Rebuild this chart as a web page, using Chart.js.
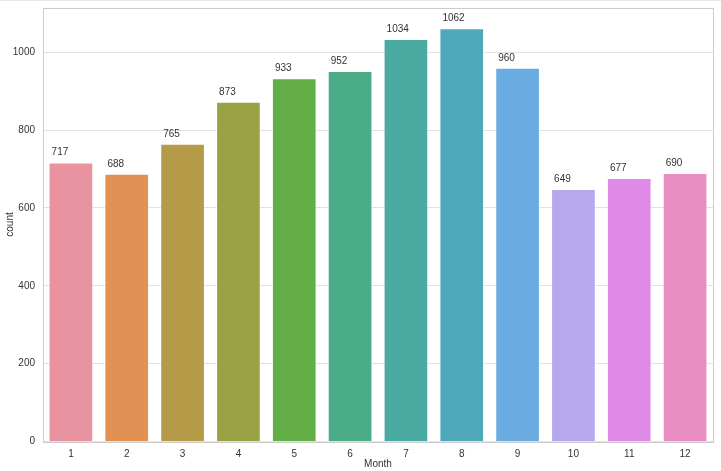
<!DOCTYPE html>
<html><head><meta charset="utf-8">
<script src="https://cdn.jsdelivr.net/npm/chart.js@4/dist/chart.umd.min.js"></script>
<style>html,body{margin:0;padding:0;background:#fff;}#wrap{width:721px;height:471px;}</style>
</head><body><div id="wrap"><canvas id="c" width="721" height="471"></canvas></div>
<script>
const months = ['1','2','3','4','5','6','7','8','9','10','11','12'];
const counts = [717, 688, 765, 873, 933, 952, 1034, 1062, 960, 649, 677, 690];
const barColors = ['#e8939f','#e19153','#b59a48','#9ba245','#63ae47','#4aad88','#4aaaa1','#4fa8b9','#6aabe1','#b7a7ec','#e08ae8','#e98dc2'];
const yTicks = [0, 200, 400, 600, 800, 1000];
const yMax = 1115;

const FONT = 'Liberation Sans, Arial, sans-serif';

const labelPlugin = {
  id: 'labels',
  afterDatasetsDraw(chart) {
    const ctx = chart.ctx;
    const meta = chart.getDatasetMeta(0);
    ctx.save();
    ctx.font = '10px ' + FONT;
    ctx.fillStyle = '#333333';
    ctx.textAlign = 'left';
    ctx.textBaseline = 'alphabetic';
    meta.data.forEach((bar, i) => {
      const left = bar.x - bar.width / 2;
      ctx.fillText(String(counts[i]), left + 3, bar.y - 7);
    });
    ctx.restore();
  }
};
const framePlugin = {
  id: 'frame',
  afterDraw(chart) {
    const a = chart.chartArea, ctx = chart.ctx;
    ctx.save();
    ctx.strokeStyle = '#cccccc';
    ctx.lineWidth = 1;
    ctx.strokeRect(Math.round(a.left) + 0.5, Math.round(a.top) + 0.5, Math.round(a.right - a.left), Math.round(a.bottom - a.top));
    ctx.strokeStyle = '#e6e6e6';
    ctx.beginPath(); ctx.moveTo(0, 0.5); ctx.lineTo(721, 0.5); ctx.stroke();
    ctx.restore();
  }
};
const bgPlugin = {
  id: 'bg',
  beforeDraw(chart) {
    const ctx = chart.ctx;
    ctx.save(); ctx.fillStyle = '#fff'; ctx.fillRect(0, 0, chart.width, chart.height); ctx.restore();
  }
};

new Chart(document.getElementById('c'), {
  type: 'bar',
  data: {
    labels: months,
    datasets: [{
      data: counts,
      backgroundColor: barColors,
      borderColor: 'rgba(255,255,255,0.35)',
      borderWidth: 1,
      categoryPercentage: 0.8,
      barPercentage: 1.0
    }]
  },
  options: {
    responsive: false,
    animation: false,
    devicePixelRatio: 1,
    layout: { padding: { top: 7.5, right: 8, left: 0, bottom: 0 } },
    plugins: { legend: { display: false }, tooltip: { enabled: false } },
    scales: {
      x: {
        grid: { display: false, drawTicks: false },
        border: { display: false },
        ticks: { color: '#333333', font: { size: 10, family: FONT }, padding: 7, maxRotation: 0 },
        title: { display: true, text: 'Month', color: '#333333', font: { size: 10, family: FONT }, padding: { top: 0, bottom: 1 } },
        afterFit(s) { s.height = 29.5; s.paddingLeft = 0; s.paddingRight = 0; }
      },
      y: {
        min: 0, max: yMax,
        afterBuildTicks(s) { s.ticks = yTicks.map(v => ({ value: v })); },
        grid: { color: '#e2e2e2', drawTicks: false, lineWidth: 1 },
        border: { display: false },
        ticks: { color: '#333333', font: { size: 10, family: FONT }, padding: 8, callback: v => String(v) },
        title: { display: true, text: 'count', color: '#333333', font: { size: 10, family: FONT }, padding: { top: 4, bottom: 0 } },
        afterFit(s) { s.width = 43; s.paddingTop = 0; s.paddingBottom = 0; }
      }
    }
  },
  plugins: [bgPlugin, labelPlugin, framePlugin]
});
</script></body></html>
